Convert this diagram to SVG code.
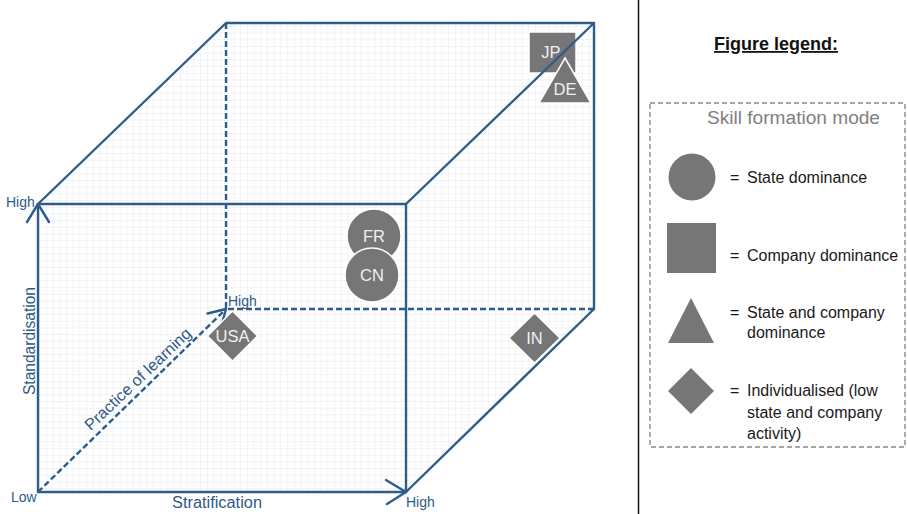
<svg xmlns="http://www.w3.org/2000/svg" width="907" height="514" viewBox="0 0 907 514">
  <style>
    .edge { fill: none; stroke: #2e5d8c; stroke-width: 2.4; stroke-linecap: round; stroke-linejoin: round; }
    .dash { stroke-dasharray: 6 3; stroke-linecap: butt; }
    .axis-label { font-family: "Liberation Sans", Arial, sans-serif; font-size: 14px; fill: #2f5a87; }
    .axis-title { font-family: "Liberation Sans", Arial, sans-serif; font-size: 16px; fill: #2f5a87; }
    .mark { fill: #767676; stroke: #ffffff; stroke-width: 1.5; }
    .mark-text { font-family: "Liberation Sans", Arial, sans-serif; font-size: 16.5px; fill: #f0f0f0; text-anchor: middle; dominant-baseline: central; }
    .legend-text { font-family: "Liberation Sans", Arial, sans-serif; font-size: 16px; fill: #1a1a1a; }
  </style>
  <defs>
    <pattern id="grid" width="6.7" height="6.7" patternUnits="userSpaceOnUse">
      <path d="M6.7 0 V6.7 M0 6.7 H6.7" fill="none" stroke="#e2e5ea" stroke-width="0.9"/>
    </pattern>
  </defs>

  <rect width="907" height="514" fill="#ffffff"/>

  <!-- grid filling the cube silhouette -->
  <polygon points="38,204 226,23 594,23 594,309 406,492 38,492" fill="url(#grid)"/>

  <!-- Japan sits beneath the top-right edge -->
  <g id="node-jp">
    <rect class="mark" x="529" y="32" width="47" height="41" stroke="none"/>
    <text class="mark-text" x="551" y="52">JP</text>
  </g>

  <!-- cube edges and axes -->
  <g id="connectors">
    <!-- front face top and right -->
    <path class="edge" d="M38 204 H406 V492"/>
    <!-- top face -->
    <path class="edge" d="M38 204 L226 23 H594 V309 M406 204 L594 23"/>
    <!-- bottom-right depth edge -->
    <path class="edge" d="M406 492 L594 309"/>
    <!-- hidden back edges -->
    <path class="edge dash" d="M226 23 V309 H594"/>
    <!-- Practice of learning axis -->
    <path class="edge dash" d="M38 492 L226 309"/>
    <path class="edge" d="M207.5 313.5 L226 309 L221 327"/>
    <!-- Standardisation axis -->
    <path class="edge" d="M38 492 V204"/>
    <path class="edge" d="M27 222 L38 204 L49 222"/>
    <!-- Stratification axis -->
    <path class="edge" d="M38 492 H406"/>
    <path class="edge" d="M386 480 L406 492 L387 504"/>
  </g>

  <!-- axis labels -->
  <g id="axis-labels">
    <text class="axis-label" x="6" y="207">High</text>
    <text class="axis-label" x="11" y="502">Low</text>
    <text class="axis-label" x="406" y="507">High</text>
    <text class="axis-label" x="228" y="306">High</text>
    <text class="axis-title" x="172" y="508" textLength="90" lengthAdjust="spacingAndGlyphs">Stratification</text>
    <text class="axis-title" transform="translate(35 341) rotate(-90)" text-anchor="middle" textLength="108" lengthAdjust="spacingAndGlyphs">Standardisation</text>
    <text class="axis-title" transform="translate(141.5 383) rotate(-43.5)" text-anchor="middle" textLength="140" lengthAdjust="spacingAndGlyphs">Practice of learning</text>
  </g>

  <!-- country markers -->
  <g id="node-usa">
    <polygon class="mark" points="232.5,311 257.5,336 232.5,361 207.5,336"/>
    <text class="mark-text" x="232.5" y="336">USA</text>
  </g>
  <g id="node-fr">
    <circle class="mark" cx="374" cy="236" r="27"/>
    <text class="mark-text" x="374" y="236">FR</text>
  </g>
  <g id="node-cn">
    <circle class="mark" cx="372" cy="275" r="27"/>
    <text class="mark-text" x="372" y="275">CN</text>
  </g>
  <g id="node-de">
    <polygon class="mark" points="565,58 591,103 539,103"/>
    <text class="mark-text" x="565" y="89">DE</text>
  </g>
  <g id="node-in">
    <polygon class="mark" points="534.5,313 560,338 534.5,363 509,338"/>
    <text class="mark-text" x="534.5" y="338">IN</text>
  </g>

  <!-- divider -->
  <line x1="638.5" y1="0" x2="638.5" y2="514" stroke="#111111" stroke-width="1.5"/>

  <!-- legend -->
  <g id="legend">
    <text x="776" y="50" text-anchor="middle" font-family="'Liberation Sans', Arial, sans-serif" font-size="18" font-weight="bold" fill="#111111" text-decoration="underline">Figure legend:</text>
    <rect x="650" y="103" width="255" height="344" fill="none" stroke="#8a8a8a" stroke-width="1.4" stroke-dasharray="5 3"/>
    <text x="707" y="124" font-family="'Liberation Sans', Arial, sans-serif" font-size="18" fill="#7f7f7f" textLength="173" lengthAdjust="spacingAndGlyphs">Skill formation mode</text>

    <circle cx="692" cy="177" r="23.5" fill="#767676"/>
    <text class="legend-text" x="730" y="183">=</text>
    <text class="legend-text" x="747" y="183">State dominance</text>

    <rect x="667" y="223" width="49" height="50" fill="#767676"/>
    <text class="legend-text" x="730" y="261">=</text>
    <text class="legend-text" x="747" y="261">Company dominance</text>

    <polygon points="691,298 714,343 668,343" fill="#767676"/>
    <text class="legend-text" x="730" y="318">=</text>
    <text class="legend-text" x="747" y="318">State and company</text>
    <text class="legend-text" x="747" y="338">dominance</text>

    <polygon points="691,368 714,391 691,414 668,391" fill="#767676"/>
    <text class="legend-text" x="730" y="396">=</text>
    <text class="legend-text" x="747" y="396">Individualised (low</text>
    <text class="legend-text" x="747" y="418">state and company</text>
    <text class="legend-text" x="747" y="439">activity)</text>
  </g>
</svg>
